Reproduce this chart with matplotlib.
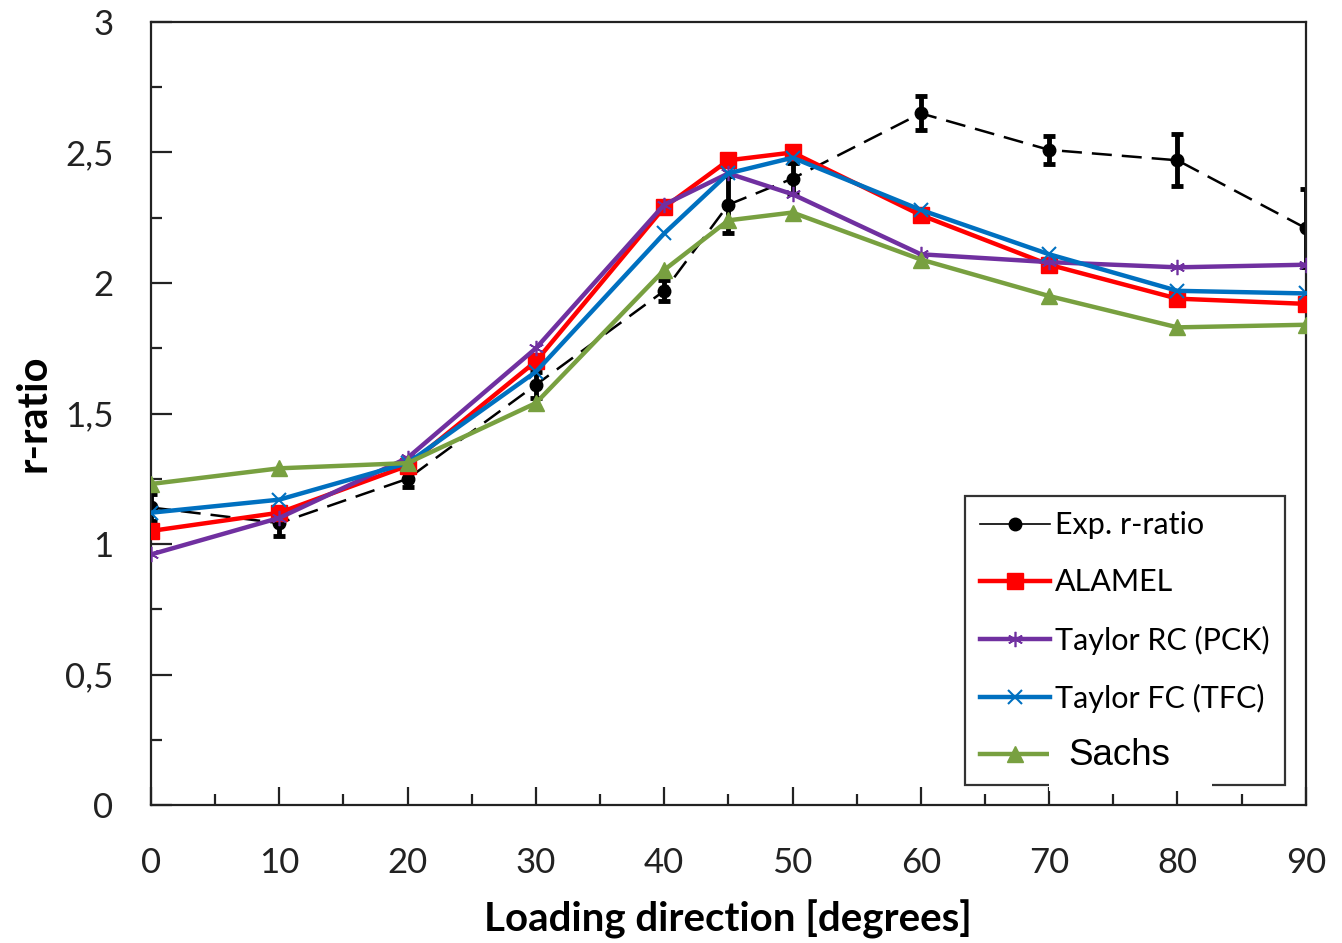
import numpy as np
import matplotlib.pyplot as plt
from matplotlib.ticker import MultipleLocator, FuncFormatter
from matplotlib.patches import Rectangle

plt.rcParams['font.family'] = ['Lato', 'DejaVu Sans']

angles = [0, 10, 20, 30, 40, 45, 50, 60, 70, 80, 90]

exp_r = [1.14, 1.08, 1.25, 1.61, 1.97, 2.30, 2.40, 2.65, 2.51, 2.47, 2.21]
exp_err = [0.05, 0.05, 0.03, 0.05, 0.04, 0.11, 0.06, 0.065, 0.055, 0.10, 0.15]

alamel = [1.05, 1.12, 1.30, 1.70, 2.29, 2.47, 2.50, 2.26, 2.07, 1.94, 1.92]
taylor_rc = [0.96, 1.10, 1.33, 1.75, 2.30, 2.42, 2.34, 2.11, 2.08, 2.06, 2.07]
taylor_fc = [1.12, 1.17, 1.31, 1.66, 2.19, 2.42, 2.48, 2.28, 2.11, 1.97, 1.96]
sachs = [1.23, 1.29, 1.31, 1.54, 2.05, 2.24, 2.27, 2.09, 1.95, 1.83, 1.84]

fig = plt.figure(figsize=(13.42, 9.43), dpi=100)
ax = fig.add_axes([0.1125, 0.1463, 0.8605, 0.8304])

# experimental data, dashed with error bars
ax.errorbar(angles, exp_r, yerr=exp_err, color='black', linestyle=(0, (8, 4)),
            linewidth=1.8, marker='o', markersize=9, elinewidth=3.5,
            capsize=4, capthick=3.5, zorder=2)
ax.plot([], [], color='black', linewidth=1.2, marker='o', markersize=9,
        label='Exp. r-ratio')

ax.plot(angles, alamel, color='#FF0000', linewidth=3.2, marker='s',
        markersize=11, label='ALAMEL', zorder=3)
ax.plot(angles, taylor_rc, color='#7030A0', linewidth=3.2, marker=(6, 2, 0),
        markersize=11, markeredgewidth=1.2, label='Taylor RC (PCK)', zorder=3)
ax.plot(angles, taylor_fc, color='#0070C0', linewidth=3.2, marker='x',
        markersize=10, markeredgewidth=1.5, label='Taylor FC (TFC)', zorder=3)
ax.plot(angles, sachs, color='#78A040', linewidth=3.2, marker='^',
        markersize=12, label='Sachs', zorder=3)

ax.set_xlim(0, 90)
ax.set_ylim(0, 3)
ax.xaxis.set_major_locator(MultipleLocator(10))
ax.xaxis.set_minor_locator(MultipleLocator(5))
ax.yaxis.set_major_locator(MultipleLocator(0.5))
ax.yaxis.set_minor_locator(MultipleLocator(0.25))
ax.yaxis.set_major_formatter(FuncFormatter(lambda v, p: ('%g' % v).replace('.', ',')))
ax.tick_params(which='both', direction='in', top=False, right=False,
               labelsize=25, width=1.6, colors='#222222')
ax.tick_params(axis='x', which='both', pad=30)
ax.tick_params(axis='y', which='both', pad=27)
ax.tick_params(which='major', length=13)
ax.tick_params(which='minor', length=8)
ax.tick_params(axis='y', which='major', length=15)
for s in ax.spines.values():
    s.set_linewidth(1.6)
    s.set_color('#222222')

ax.set_xlabel('Loading direction [degrees]', fontsize=29, fontweight='bold',
              labelpad=15)
ax.set_ylabel('r-ratio', fontsize=30, fontweight='bold', labelpad=9)

leg = ax.legend(loc='lower right', bbox_to_anchor=(0.982, 0.0255),
                borderaxespad=0, fontsize=22, frameon=True, fancybox=False,
                edgecolor='black', handlelength=2.3, handletextpad=0.15,
                labelspacing=0.95, borderpad=0.5)
leg.get_frame().set_linewidth(1.6)

# the "Sachs" label sits on a white patch that cuts the legend border
fig.canvas.draw()
st = leg.get_texts()[-1]
tb = st.get_window_extent()
fb = leg.get_frame().get_window_extent()
st.set_visible(False)
W, H = fig.bbox.width, fig.bbox.height
x0 = tb.x0 - 6
fig.patches.append(Rectangle((x0 / W, (fb.y0 - 6) / H), 163 / W,
                             (tb.y1 + 18 - fb.y0) / H, transform=fig.transFigure,
                             facecolor='white', edgecolor='none', zorder=10))
fig.text((tb.x0 + 13) / W, (tb.y0 + tb.y1) / 2 / H, 'Sachs',
         family='Liberation Sans', fontsize=26.5, va='center', ha='left',
         zorder=11)

fig.savefig('out.png', dpi=100)
